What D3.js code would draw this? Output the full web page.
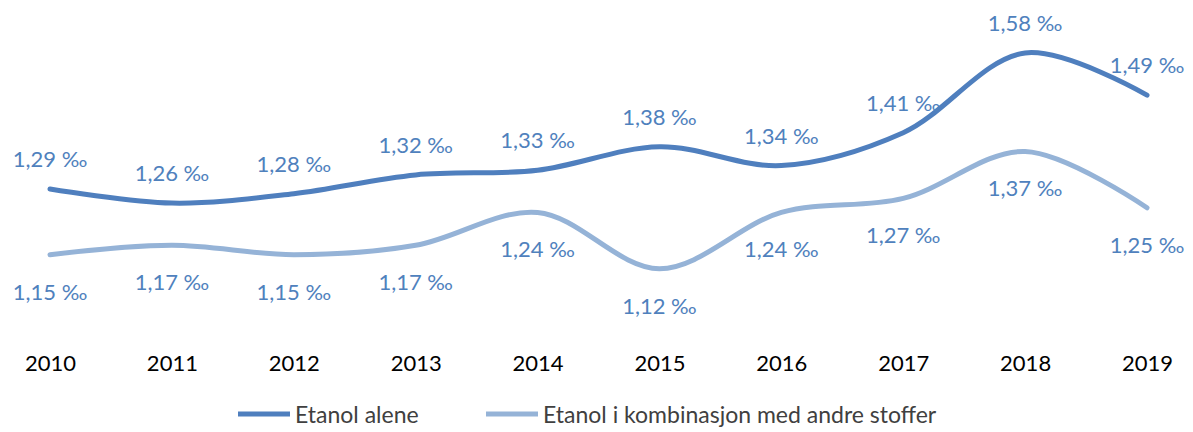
<!DOCTYPE html>
<html>
<head>
<meta charset="utf-8">
<title>etanol</title>
<style>
  body { margin: 0; background: #fff; }
  text { font-family: Lato, "Open Sans", sans-serif; }
</style>
</head>
<body>
<svg width="1193" height="432"></svg>
<script src="https://cdn.jsdelivr.net/npm/d3@7"></script>
<script>
var years = ['2010', '2011', '2012', '2013', '2014', '2015', '2016', '2017', '2018', '2019']
var alene = [1.29, 1.26, 1.28, 1.32, 1.33, 1.38, 1.34, 1.41, 1.58, 1.49]
var kombinasjon = [1.15, 1.17, 1.15, 1.17, 1.24, 1.12, 1.24, 1.27, 1.37, 1.25]
var seriesNames = ['Etanol alene', 'Etanol i kombinasjon med andre stoffer']
var seriesColors = ['#4f7fbe', '#95b3d7']

var svg = d3.select('svg')

var x = d3.scalePoint().domain(years).range([50, 1147])
var y = d3.scaleLinear().domain([1.0, 1.6]).range([325, 43.6])

// year axis, no line no ticks
var xAxis = svg.append('g')
    .attr('transform', 'translate(0,371)')
    .call(d3.axisBottom(x).tickSize(0).tickPadding(0))
xAxis.select('.domain').remove()
xAxis.selectAll('text')
    .attr('font-family', 'Lato, "Open Sans", sans-serif')
    .attr('font-size', 22)
    .attr('font-weight', 'normal')
    .attr('fill', '#000')
    .attr('dy', 0)

var line = d3.line()
    .x(function(d, i){ return x(years[i]) })
    .y(function(d){ return y(d) })
    .curve(d3.curveCatmullRom.alpha(0.5))

var fmt = function(v){ return v.toFixed(2).replace('.', ',') + ' \u2030' }

var all = [alene, kombinasjon]
all.forEach(function(vals, s){
    svg.append('path')
        .datum(vals)
        .attr('d', line)
        .attr('fill', 'none')
        .attr('stroke', seriesColors[s])
        .attr('stroke-width', 5)
        .attr('stroke-linecap', 'round')

    // labels above for first series, below for second
    svg.selectAll('.lbl' + s)
        .data(vals)
        .enter().append('text')
        .attr('class', 'lbl' + s)
        .attr('x', function(d, i){ return x(years[i]) })
        .attr('y', function(d){ return s == 0 ? y(d) - 22 : y(d) + 45 })
        .attr('text-anchor', 'middle')
        .attr('font-size', 22)
        .attr('fill', '#4f81bd')
        .text(fmt)
})

// legend
var legendX = [238, 486]
seriesNames.forEach(function(name, s){
    svg.append('line')
        .attr('x1', legendX[s]).attr('x2', legendX[s] + 52)
        .attr('y1', 414).attr('y2', 414)
        .attr('stroke', seriesColors[s])
        .attr('stroke-width', 5)
    svg.append('text')
        .attr('x', legendX[s] + 57)
        .attr('y', 423)
        .attr('font-size', 23)
        .attr('fill', '#404040')
        .text(name)
})
</script>
</body>
</html>
